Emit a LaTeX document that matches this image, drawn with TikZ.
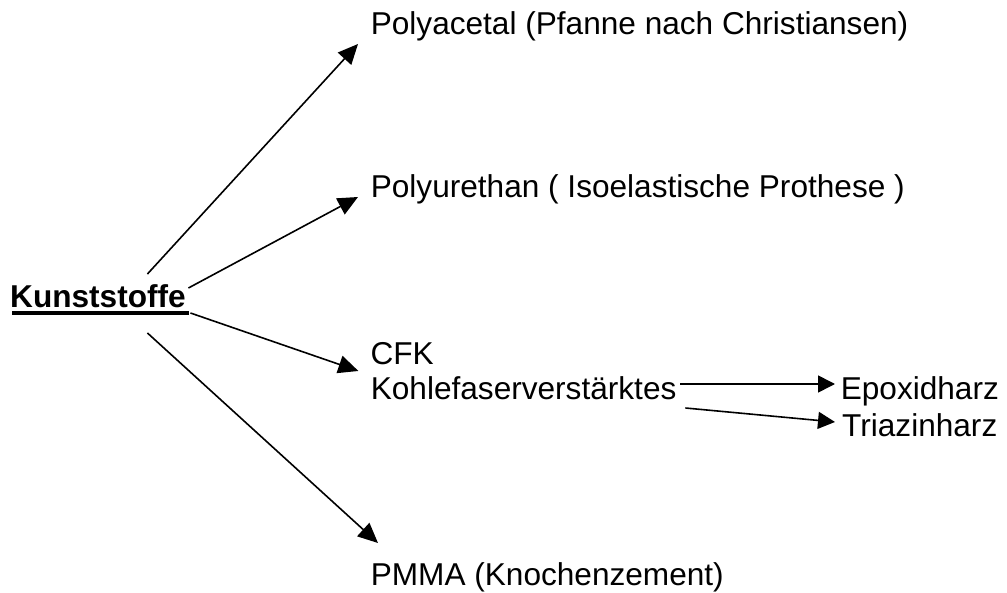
\documentclass[tikz,border=0pt]{standalone}
\usepackage{fontspec}
\setmainfont{Liberation Sans}
\usetikzlibrary{arrows.meta}
\tikzset{
  txt/.style={inner sep=0pt, anchor=base west, font=\fontsize{31.6}{36}\selectfont},
  pfeil/.style={line width=1.6pt, -{Triangle[length=20pt,width=18pt]}},
  kleinpfeil/.style={line width=1.6pt, -{Triangle[length=17pt,width=17pt]}}
}
\begin{document}
\begin{tikzpicture}[x=1pt,y=-1pt]
      \useasboundingbox (0,0) rectangle (1007,593);
      \node[txt, font=\fontsize{31.6}{36}\selectfont\bfseries] (kunst) at (10,308) {Kunststoffe};
      \node[txt] (polyacetal) at (370.6,35) {Polyacetal (Pfanne nach Christiansen)};
      \node[txt] (polyurethan) at (370.6,198) {Polyurethan ( Isoelastische Prothese )};
      \node[txt] (cfk) at (370.4,365) {CFK};
      \node[txt] (kohle) at (370.6,400) {Kohlefaserverstärktes};
      \node[txt] (pmma) at (370.6,585) {PMMA (Knochenzement)};
      \node[txt] (epoxid) at (840.6,400) {Epoxidharz};
      \node[txt] (triazin) at (842,437) {Triazinharz};
      % underline
      \draw[line width=4.5pt] ([xshift=2pt,yshift=-5pt]kunst.base west) -- ([xshift=3.5pt,yshift=-5pt]kunst.base east);
      \begin{scope}[pfeil]
        \draw ([xshift=-38.5pt,yshift=34pt]kunst.base east) to ([xshift=-12.6pt,yshift=-9pt]polyacetal.base west);
        \draw ([xshift=2.5pt,yshift=20pt]kunst.base east) to ([xshift=-12.6pt,yshift=1pt]polyurethan.base west);
        \draw ([xshift=4.5pt,yshift=-5pt]kunst.base east) to ([xshift=-12pt,yshift=-6pt]cfk.base west);
        \draw ([xshift=-38.5pt,yshift=-25pt]kunst.base east) to ([xshift=7.4pt,yshift=42pt]pmma.base west);
      \end{scope}
      \begin{scope}[kleinpfeil]
        \draw ([xshift=3.8pt,yshift=16pt]kohle.base east) to ([xshift=-5.6pt,yshift=16pt]epoxid.base west);
        \draw ([xshift=8.8pt,yshift=-8pt]kohle.base east) to ([xshift=-7pt,yshift=15pt]triazin.base west);
      \end{scope}
\end{tikzpicture}
\end{document}
